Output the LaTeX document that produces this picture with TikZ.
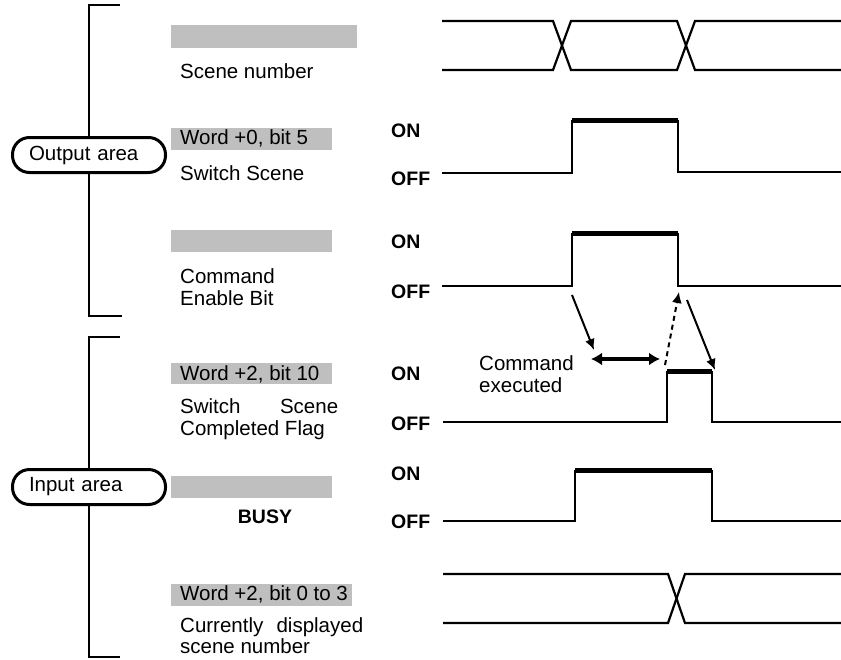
\documentclass[tikz,border=0pt]{standalone}
\usepackage{fontspec}
\setmainfont{Liberation Sans}
\usetikzlibrary{arrows.meta}
\begin{document}
\begin{tikzpicture}[x=1pt,y=-1pt,
  wave/.style={line width=2.2pt, line join=miter},
  onlvl/.style={line width=4.5pt},
  graybar/.style={fill=black!25, draw=none},
  lbl/.style={anchor=base west, inner sep=0pt, font=\fontsize{20.5}{23}\selectfont},
  onoff/.style={anchor=base west, inner sep=0pt, font=\bfseries\fontsize{19.5}{22}\selectfont},
  area/.style={draw, line width=3pt, rounded corners=17pt, fill=white, minimum width=153pt,
    minimum height=35pt, text width=120pt, align=left, inner sep=0pt,
    font=\fontsize{20.5}{23}\selectfont},
  brk/.style={line width=2.2pt},
  arr/.style={line width=2pt, -{Latex[length=11pt,width=10pt]}},
  darr/.style={line width=3.6pt, {Latex[length=11pt,width=13pt]}-{Latex[length=11pt,width=13pt]}},
  dasharr/.style={line width=2pt, dash pattern=on 5pt off 4pt, -{Latex[length=11pt,width=10pt]}},
]
\useasboundingbox (0,0) rectangle (841,659);

% gray bars
\fill[graybar] (171,25) rectangle (357,48);
\fill[graybar] (171,128) rectangle (332,150);
\fill[graybar] (171,230) rectangle (332,252);
\fill[graybar] (171,363) rectangle (332,384);
\fill[graybar] (171,476) rectangle (332,498);
\fill[graybar] (171,584) rectangle (352,606);

% area labels and brackets
\node[area] (out) at (89,155) {Output area};
\node[area] (inp) at (89,487) {Input area};
\draw[brk] (120,5) -- (89,5) -- (out.north);
\draw[brk] (out.south) -- (89,316) -- (122,316);
\draw[brk] (120,337) -- (89,337) -- (inp.north);
\draw[brk] (inp.south) -- (89,657) -- (120,657);

% signal names
\node[lbl] (sn) at (180,78) {Scene number};
\node[lbl] (w0) at (180,144) {Word +0, bit 5};
\node[lbl] (ss) at (180,180) {Switch Scene};
\node[lbl] (ceb1) at (180,283) {Command};
\node[lbl] (ceb2) at (180,305) {Enable Bit};
\node[lbl] (w2) at (180,380) {Word +2, bit 10};
\node[lbl] (sscf1) at (180,413) {\hbox to 158pt{Switch\hfill Scene}};
\node[lbl] (sscf2) at (180,435) {Completed Flag};
\node[anchor=base, inner sep=0pt, font=\bfseries\fontsize{19.5}{22}\selectfont] (busy) at (265,523) {BUSY};
\node[lbl] (w23) at (180,600) {Word +2, bit 0 to 3};
\node[lbl] (cd1) at (180,632) {\hbox to 183pt{Currently\hfill displayed}};
\node[lbl] (cd2) at (180,653) {scene number};

% ON / OFF
\node[onoff] (on1) at (391,137) {ON};
\node[onoff] (off1) at (391,185) {OFF};
\node[onoff] (on2) at (391,248) {ON};
\node[onoff] (off2) at (391,298) {OFF};
\node[onoff] (on3) at (391,380) {ON};
\node[onoff] (off3) at (391,430) {OFF};
\node[onoff] (on4) at (391,480) {ON};
\node[onoff] (off4) at (391,528) {OFF};

% waveforms
% scene number bus
\draw[wave] (442,21) -- (553,21) -- (571,70) -- (677,70) -- (695,21) -- (841,21);
\draw[wave] (442,70) -- (553,70) -- (571,21) -- (677,21) -- (695,70) -- (841,70);
% switch scene
\draw[wave] (442,173) -- (572,173) -- (572,121) -- (678,121) -- (678,172) -- (841,172);
\draw[onlvl] (572,120.5) -- (678,120.5);
% command enable bit
\draw[wave] (442,286) -- (572,286) -- (572,234) -- (678,234) -- (678,286) -- (841,286);
\draw[onlvl] (572,233.5) -- (678,233.5);
% switch scene completed flag
\draw[wave] (443,422) -- (667,422) -- (667,372) -- (712,372) -- (712,422) -- (841,422);
\draw[onlvl] (667,371.5) -- (712,371.5);
% busy
\draw[wave] (443,521) -- (575,521) -- (575,471) -- (712,471) -- (712,521) -- (841,521);
\draw[onlvl] (575,470.5) -- (712,470.5);
% currently displayed scene number
\draw[wave] (443,574) -- (668,574) -- (685,623) -- (841,623);
\draw[wave] (443,623) -- (668,623) -- (685,574) -- (841,574);

% command executed
\node[lbl] (ce1) at (479,370) {Command};
\node[lbl] (ce2) at (479,392) {executed};

% arrows
\coordinate (a1s) at (572,295);
\coordinate (a1e) at (594,350);
\coordinate (dl) at (591,359);
\coordinate (dr) at (660,359);
\coordinate (ds) at (665,365);
\coordinate (de) at (679,292);
\coordinate (a3s) at (687,300);
\coordinate (a3e) at (715,370);
\draw[arr] (a1s) -- (a1e);
\draw[darr] (dl) -- (dr);
\draw[dasharr] (ds) -- (de);
\draw[arr] (a3s) -- (a3e);
\end{tikzpicture}
\end{document}
